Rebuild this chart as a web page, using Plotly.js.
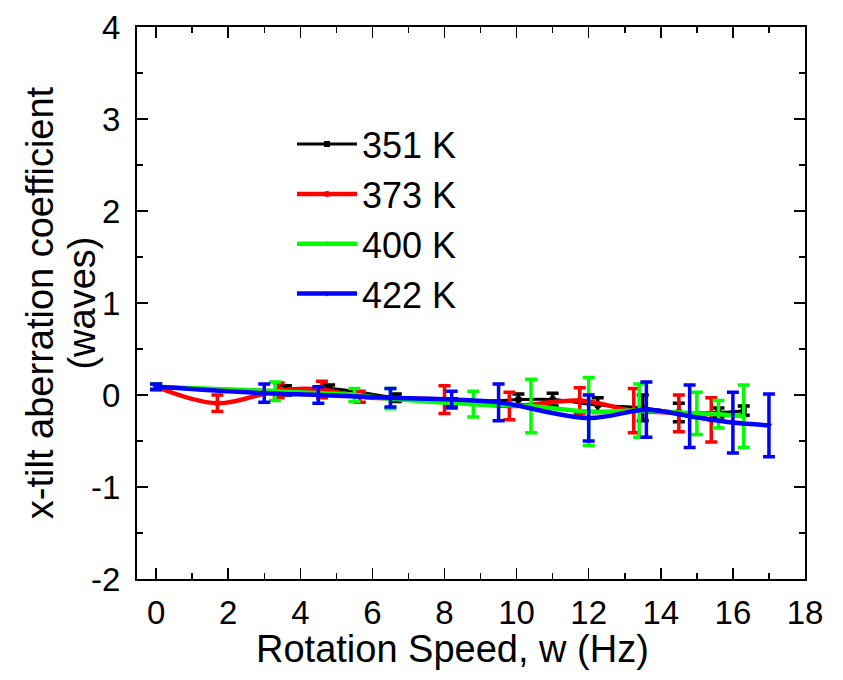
<!DOCTYPE html>
<html>
<head>
<meta charset="utf-8">
<script src="https://cdn.plot.ly/plotly-3.0.1.min.js"></script>
<style>html,body{margin:0;padding:0;background:#fff;}#chart{width:843px;height:680px;}</style>
</head>
<body>
<div id="chart"></div>
<script>
// Series data
const seriesNames = ['351 K', '373 K', '400 K', '422 K'];

const x351 = [0, 3.6, 4.8, 6.65, 8.2, 10.05, 11.0, 12.25, 13.5, 14.5, 15.6, 16.3];
const y351 = [0.09, 0.05, 0.07, -0.03, -0.08, -0.05, -0.05, -0.11, -0.14, -0.19, -0.19, -0.17];
const e351 = [0.03, 0.05, 0.04, 0.04, 0.04, 0.06, 0.07, 0.08, 0.14, 0.10, 0.05, 0.05];

const x373 = [0, 1.7, 3.4, 4.6, 5.65, 8.0, 9.8, 11.75, 13.25, 14.5, 15.4];
const y373 = [0.09, -0.09, 0.05, 0.06, -0.02, -0.05, -0.12, -0.06, -0.17, -0.20, -0.27];
const e373 = [0.03, 0.09, 0.08, 0.09, 0.06, 0.15, 0.15, 0.14, 0.24, 0.20, 0.24];

const x400 = [0, 3.3, 5.5, 6.5, 8.8, 10.4, 12.0, 13.4, 15.0, 15.6, 16.3];
const y400 = [0.09, 0.04, 0.0, -0.04, -0.10, -0.12, -0.18, -0.17, -0.20, -0.21, -0.23];
const e400 = [0.03, 0.10, 0.07, 0.11, 0.14, 0.29, 0.37, 0.29, 0.23, 0.15, 0.34];

const x422 = [0, 3.0, 4.5, 6.5, 8.2, 9.5, 12.0, 13.6, 14.8, 16.0, 17.0];
const y422 = [0.09, 0.02, 0.0, -0.03, -0.05, -0.08, -0.25, -0.16, -0.23, -0.30, -0.33];
const e422 = [0.03, 0.10, 0.09, 0.10, 0.09, 0.20, 0.25, 0.30, 0.34, 0.33, 0.34];

const xTickVals = [0, 2, 4, 6, 8, 10, 12, 14, 16, 18];
const xTickText = ['0', '2', '4', '6', '8', '10', '12', '14', '16', '18'];
const yTickVals = [-2, -1, 0, 1, 2, 3, 4];
const yTickText = ['-2', '-1', '0', '1', '2', '3', '4'];

const xTitle = 'Rotation Speed, w (Hz)';
const yTitleLine1 = 'x-tilt aberration coefficient';
const yTitleLine2 = '(waves)';

const FONT = 'Liberation Sans, Arial, sans-serif';

function mk(name, x, y, e, color, symbol, lw, group) {
  return {
    type: 'scatter', mode: 'lines+markers', name: name, x: x, y: y,
    legendgroup: group,
    line: {color: color, width: lw, shape: 'spline', smoothing: 1},
    marker: {color: color, symbol: symbol, size: 6},
    error_y: {type: 'data', array: e, visible: true, color: color, thickness: 3.5, width: 6}
  };
}

const traces = [
  mk(seriesNames[0], x351, y351, e351, '#000000', 'square', 3, 'a'),
  mk(seriesNames[1], x373, y373, e373, '#ff0000', 'circle', 4.5, 'b'),
  mk(seriesNames[2], x400, y400, e400, '#00ff00', 'triangle-up', 4.5, 'c'),
  mk(seriesNames[3], x422, y422, e422, '#0000ff', 'triangle-down', 4.5, 'd')
];

const axisCommon = {
  showline: true, linecolor: '#000', linewidth: 2, mirror: 'allticks',
  ticks: 'inside', ticklen: 11, tickwidth: 1.5, tickcolor: '#000',
  showgrid: false, zeroline: false,
  tickfont: {family: FONT, size: 33, color: '#000'}
};

const layout = {
  width: 843, height: 680,
  margin: {l: 137, r: 38, t: 27, b: 101},
  paper_bgcolor: '#fff', plot_bgcolor: '#fff',
  font: {family: FONT, color: '#000'},
  showlegend: true,
  legend: {
    x: 0.232, y: 0.842, xanchor: 'left', yanchor: 'top',
    bgcolor: 'rgba(0,0,0,0)', borderwidth: 0,
    font: {family: FONT, size: 36, color: '#000'},
    traceorder: 'grouped', tracegroupgap: 0, itemwidth: 60
  },
  xaxis: Object.assign({}, axisCommon, {
    range: [-0.53, 18], tickmode: 'array', tickvals: xTickVals, ticktext: xTickText,
    minor: {dtick: 1, tick0: 0, ticks: 'inside', ticklen: 6, tickcolor: '#000', tickwidth: 1.5, showgrid: false},
    ticklabelstandoff: 3,
    title: {text: ''}
  }),
  yaxis: Object.assign({}, axisCommon, {
    range: [-2, 4], tickmode: 'array', tickvals: yTickVals, ticktext: yTickText,
    minor: {dtick: 0.5, tick0: 0, ticks: 'inside', ticklen: 6, tickcolor: '#000', tickwidth: 1.5, showgrid: false},
    ticklabelstandoff: 8,
    title: {text: ''}
  }),
  annotations: [
    {text: yTitleLine1, xref: 'paper', yref: 'paper', x: -0.145, y: 0.5, xanchor: 'center', yanchor: 'middle',
     textangle: -90, showarrow: false, font: {family: FONT, size: 38, color: '#000'}},
    {text: yTitleLine2, xref: 'paper', yref: 'paper', x: -0.083, y: 0.5, xanchor: 'center', yanchor: 'middle',
     textangle: -90, showarrow: false, font: {family: FONT, size: 38, color: '#000'}},
    {text: xTitle, xref: 'paper', yref: 'paper', x: 0.472, y: -0.127, xanchor: 'center', yanchor: 'middle',
     showarrow: false, font: {family: FONT, size: 38, color: '#000'}}
  ]
};

Plotly.newPlot('chart', traces, layout, {displayModeBar: false, staticPlot: true});
</script>
</body>
</html>
